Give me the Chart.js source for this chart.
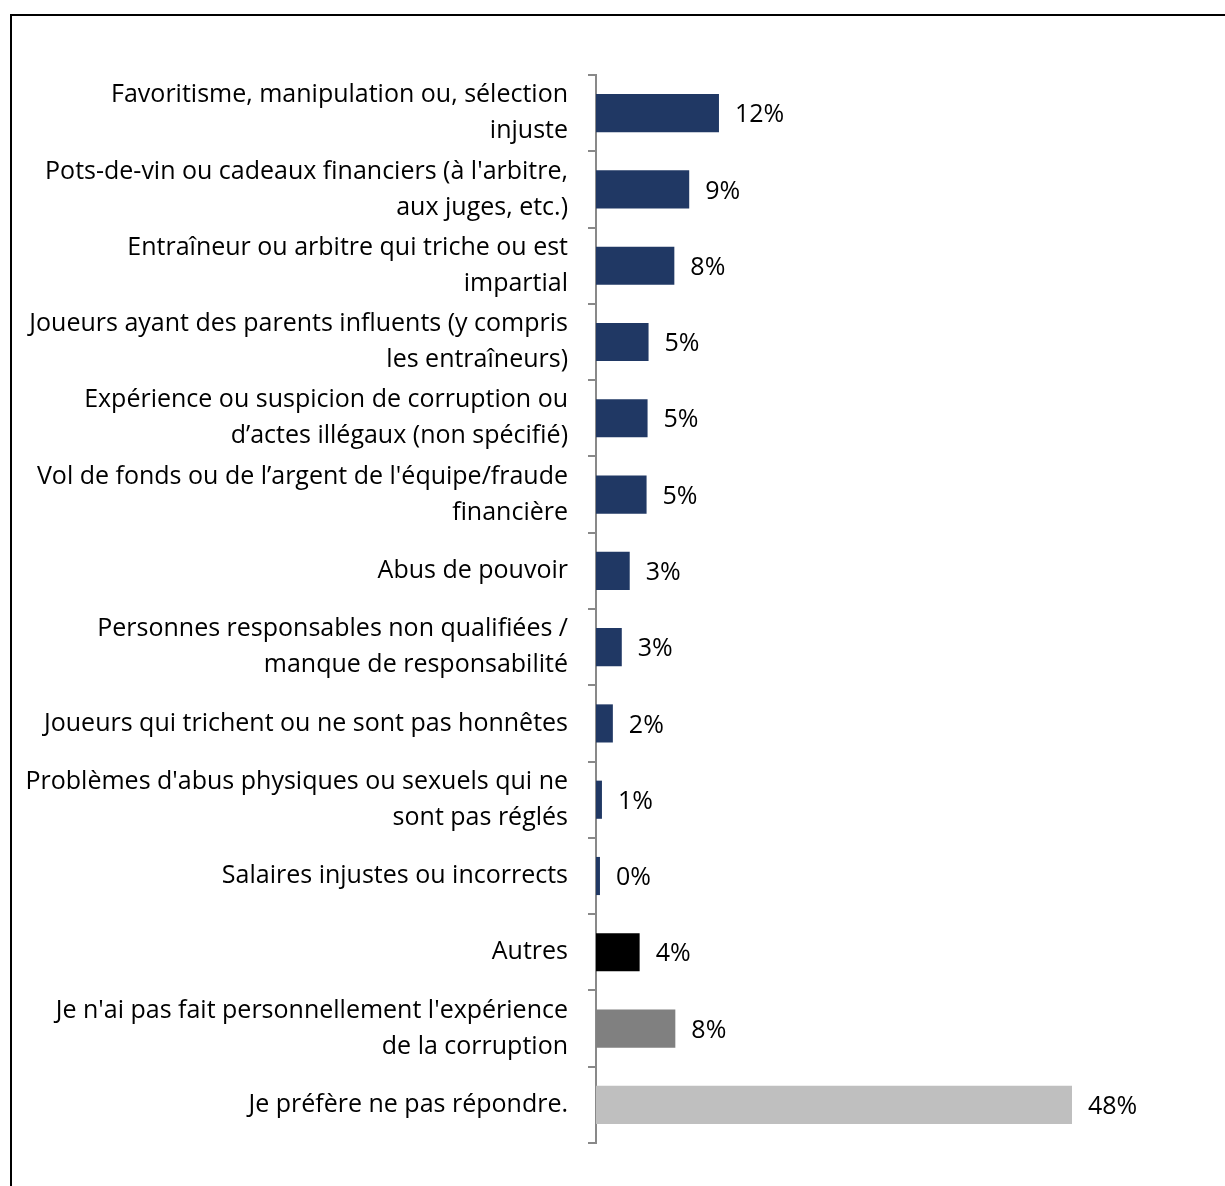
<!DOCTYPE html>
<html>
<head>
<meta charset="utf-8">
<script src="https://cdn.jsdelivr.net/npm/chart.js@4.4.1/dist/chart.umd.min.js"></script>
<style>
  body { margin: 0; background: #fff; }
  #wrap { position: relative; width: 1225px; height: 1186px; overflow: hidden; }
  #frame { position: absolute; left: 10px; top: 14px; width: 1300px; height: 1300px;
           border-top: 2px solid #000; border-left: 2px solid #000; }
  canvas { position: absolute; left: 0; top: 0; }
</style>
</head>
<body>
<div id="wrap">
  <div id="frame"></div>
  <canvas id="chartCanvas" width="1225" height="1186"></canvas>
</div>
<script>
// Catégories (une ligne par entrée du tableau interne)
const categories = [
  ['Favoritisme, manipulation ou, sélection', 'injuste'],
  ["Pots-de-vin ou cadeaux financiers (à l'arbitre,", 'aux juges, etc.)'],
  ['Entraîneur ou arbitre qui triche ou est', 'impartial'],
  ['Joueurs ayant des parents influents (y compris', 'les entraîneurs)'],
  ['Expérience ou suspicion de corruption ou', 'd’actes illégaux (non spécifié)'],
  ["Vol de fonds ou de l’argent de l'équipe/fraude", 'financière'],
  'Abus de pouvoir',
  ['Personnes responsables non qualifiées /', 'manque de responsabilité'],
  'Joueurs qui trichent ou ne sont pas honnêtes',
  ["Problèmes d'abus physiques ou sexuels qui ne", 'sont pas réglés'],
  'Salaires injustes ou incorrects',
  'Autres',
  ["Je n'ai pas fait personnellement l'expérience", 'de la corruption'],
  'Je préfère ne pas répondre.'
];

// Pourcentages
const values = [12.4, 9.4, 7.9, 5.3, 5.2, 5.1, 3.4, 2.6, 1.7, 0.6, 0.4, 4.4, 8.0, 48.0];

// Couleurs des barres
const barColors = [
  '#203864', '#203864', '#203864', '#203864', '#203864', '#203864', '#203864',
  '#203864', '#203864', '#203864', '#203864', '#000000', '#808080', '#BFBFBF'
];

const FONT = '"Open Sans", Lato, sans-serif';

// Étiquettes de valeur à droite des barres
const valueLabels = {
  id: 'valueLabels',
  afterDatasetsDraw(chart) {
    const ctx = chart.ctx;
    const meta = chart.getDatasetMeta(0);
    ctx.save();
    ctx.font = '25px ' + FONT;
    ctx.fillStyle = '#000';
    ctx.textAlign = 'left';
    ctx.textBaseline = 'middle';
    meta.data.forEach(function(bar, i) {
      ctx.fillText(Math.round(values[i]) + '%', bar.x + 16, bar.y + 2);
    });
    ctx.restore();
  }
};

const chartCanvas = document.getElementById('chartCanvas');
const myChart = new Chart(chartCanvas, {
  type: 'bar',
  data: {
    labels: categories,
    datasets: [
      {
        data: values,
        backgroundColor: barColors,
        borderWidth: 0,
        categoryPercentage: 1,
        barPercentage: 0.5
      }
    ]
  },
  plugins: [valueLabels],
  options: {
    indexAxis: 'y',
    responsive: false,
    animation: false,
    layout: { padding: { top: 75, bottom: 43, right: 34, left: 0 } },
    plugins: {
      legend: { display: false },
      tooltip: { enabled: false }
    },
    scales: {
      x: {
        display: false,
        min: 0,
        max: 60
      },
      y: {
        afterFit: function(scale) {
          scale.width = 596;
          scale.paddingTop = 0;
          scale.paddingBottom = 0;
        },
        grid: {
          drawOnChartArea: false,
          drawTicks: true,
          tickLength: 8,
          color: '#898989',
          lineWidth: 2
        },
        border: { display: true, color: '#898989', width: 2 },
        ticks: {
          color: '#000',
          padding: 20,
          autoSkip: false,
          font: { family: FONT, size: 25, lineHeight: 1.44 }
        }
      }
    }
  }
});
</script>
</body>
</html>
